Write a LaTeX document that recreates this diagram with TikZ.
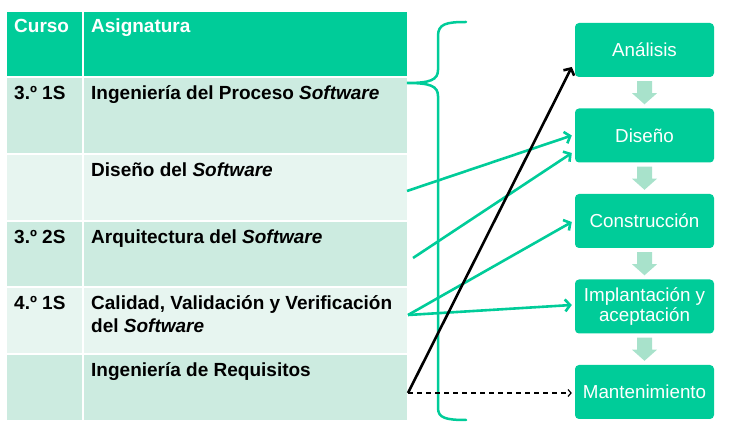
\documentclass[tikz,border=0pt]{standalone}
\usepackage{fontspec}
\setmainfont{Liberation Sans}
\usetikzlibrary{arrows.meta,calc}
\definecolor{mint}{RGB}{0,204,153}
\definecolor{rowdark}{RGB}{204,235,224}
\definecolor{rowlight}{RGB}{231,245,240}
\definecolor{flow}{RGB}{168,226,203}

\begin{document}
\begin{tikzpicture}[x=1pt,y=-1pt,
  cell/.style={anchor=north west,inner sep=0pt,outer sep=0pt},
  celltext/.style={anchor=base west,inner sep=0pt,font=\fontsize{19}{23}\selectfont\bfseries},
  hdrtext/.style={celltext,text=white},
  stage/.style={fill=mint,text=white,rounded corners=4pt,minimum width=139pt,
    minimum height=54pt,inner sep=2pt,align=center,
    font=\fontsize{18.8}{20.5}\selectfont},
  link/.style={draw=mint,line width=2.6pt,-{Straight Barb[length=5pt,width=12pt]}},
  blacklink/.style={draw=black,line width=2.6pt,-{Straight Barb[length=5pt,width=12pt]}},
  dashlink/.style={draw=black,line width=1.2pt,dash pattern=on 5pt off 4pt,
    -{Straight Barb[length=3pt,width=7pt]}},
  bracestyle/.style={draw=mint,line width=2.5pt,line cap=round}]

\useasboundingbox (0,0) rectangle (737,427);

% table cells
\node[cell,fill=mint,minimum width=75pt,minimum height=64pt] (h1) at (7,12) {};
\node[cell,fill=mint,minimum width=323pt,minimum height=64pt] (h2) at (84,12) {};
\node[cell,fill=rowdark,minimum width=75pt,minimum height=75pt] (a1) at (7,78) {};
\node[cell,fill=rowdark,minimum width=323pt,minimum height=75pt] (a2) at (84,78) {};
\node[cell,fill=rowlight,minimum width=75pt,minimum height=65pt] (b1) at (7,155) {};
\node[cell,fill=rowlight,minimum width=323pt,minimum height=65pt] (b2) at (84,155) {};
\node[cell,fill=rowdark,minimum width=75pt,minimum height=64pt] (c1) at (7,222) {};
\node[cell,fill=rowdark,minimum width=323pt,minimum height=64pt] (c2) at (84,222) {};
\node[cell,fill=rowlight,minimum width=75pt,minimum height=65pt] (d1) at (7,288) {};
\node[cell,fill=rowlight,minimum width=323pt,minimum height=65pt] (d2) at (84,288) {};
\node[cell,fill=rowdark,minimum width=75pt,minimum height=65pt] (e1) at (7,355) {};
\node[cell,fill=rowdark,minimum width=323pt,minimum height=65pt] (e2) at (84,355) {};

% table texts
\node[hdrtext] (th1) at (14,33) {Curso};
\node[hdrtext] (th2) at (91,33) {Asignatura};
\node[celltext] (ta1) at (14,100) {3.º 1S};
\node[celltext] (ta2) at (91,100) {Ingeniería del Proceso \textit{Software}};
\node[celltext] (tb2) at (91,177) {Diseño del \textit{Software}};
\node[celltext] (tc1) at (14,244) {3.º 2S};
\node[celltext] (tc2) at (91,244) {Arquitectura del \textit{Software}};
\node[celltext] (td1) at (14,310) {4.º 1S};
\node[celltext] (td2) at (91,310) {Calidad, Validación y Verificación};
\node[celltext] (td3) at (91,333) {del \textit{Software}};
\node[celltext] (te2) at (91,377) {Ingeniería de Requisitos};

% process stages
\node[stage] (an) at (644.5,50) {Análisis};
\node[stage] (di) at (644.5,135.5) {Diseño};
\node[stage] (co) at (644.5,221) {Construcción};
\node[stage] (im) at (644.5,306.5) {Implantación y\\aceptación};
\node[stage] (ma) at (644.5,392) {Mantenimiento};

% block arrows between stages
\foreach \a/\b in {an/di,di/co,co/im,im/ma}{
  \fill[flow] ($(\a.south)+(-7.5,4)$) -- ($(\a.south)+(7.5,4)$)
    -- ($(\a.south)+(7.5,16)$) -- ($(\a.south)+(12.5,16)$)
    -- ($(\b.north)+(0,-4)$)
    -- ($(\a.south)+(-12.5,16)$) -- ($(\a.south)+(-7.5,16)$) -- cycle;
}

% brace grouping the whole table
\coordinate (bt) at (407,83);
\draw[bracestyle] (466,22) .. controls (446,22) and (438,24) .. (438,36)
  -- (438,70) .. controls (438,80) and (430,83) .. (bt)
  .. controls (430,83) and (438,86) .. (438,96)
  -- (438,408) .. controls (438,418) and (446,420) .. (466,420);

% connectors from subjects to stages
\coordinate (sb) at (407,191);
\coordinate (sc) at (413,258);
\coordinate (sd) at (408,315);
\coordinate (se) at (408,393);
\draw[link] (sb) -- ($(di.west)+(-3,0)$);
\draw[link] (sc) -- ($(di.west)+(-3,17.5)$);
\draw[link] (sd) -- ($(co.west)+(-3,1)$);
\draw[link] (sd) -- ($(im.west)+(-3,-1.5)$);
\draw[blacklink] (se) -- ($(an.west)+(-3,17)$);
\draw[dashlink] (se) -- ($(ma.west)+(-3,1)$);

\end{tikzpicture}
\end{document}
